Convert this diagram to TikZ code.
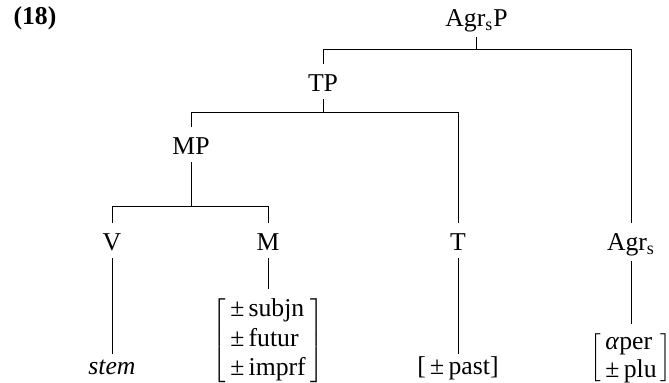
\documentclass[tikz,border=0pt]{standalone}
\usepackage{fontspec}
\setmainfont{Liberation Serif}

\begin{document}
\begin{tikzpicture}[x=0.5pt, y=-0.5pt, line width=0.5pt,
    font=\fontsize{12.85}{14.75}\selectfont,
    cat/.style={inner sep=0pt, anchor=base, text height=13.5pt, text depth=3.5pt},
    agr/.style={cat, text depth=5pt},
    leaf/.style={inner sep=0pt, anchor=base, text height=10pt, text depth=2pt},
    feat/.style={inner sep=0pt, outer ysep=3.5pt, anchor=north}]
  \useasboundingbox (0,0) rectangle (669,383);
  \draw
    (13,25) node[anchor=base west, inner sep=0pt] (ex){\textbf{(18)}}
    (476.5,27) node[agr] (AgrsP){Agr\textsubscript{s}P}
    (323,92) node[cat] (TP){TP}
    (191,155) node[cat] (MP){MP}
    (112,251) node[cat] (V){V}
    (268,251) node[cat] (M){M}
    (458,251) node[cat] (T){T}
    (631,251) node[agr] (Agrs){Agr\textsubscript{s}}
    (112,375) node[leaf] (stem){\textit{stem}}
    (268,289) node[feat] (Mfeat){$\left[\begin{tabular}{@{\,}l@{\,}}±\,subjn\\±\,futur\\±\,imprf\end{tabular}\right]$}
    (458,375) node[leaf] (Tfeat){[\,±\,past]}
    (631,324) node[feat] (Afeat){\delimiterfactor=800 \renewcommand{\arraystretch}{0.92}%
      $\left[\begin{tabular}{@{\,}l@{\,}}\textit{α}per\\±\,plu\end{tabular}\right]$};
  \coordinate (b1) at (0,50);
  \coordinate (b2) at (0,113);
  \coordinate (b3) at (0,207);
  \begin{scope}[-]
    \draw (AgrsP.south) -- (AgrsP.south |- b1) -| (TP.north);
    \draw (AgrsP.south |- b1) -| (Agrs.north);
    \draw (TP.south) -- (TP.south |- b2) -| (MP.north);
    \draw (TP.south |- b2) -| (T.north);
    \draw (MP.south) -- (MP.south |- b3) -| (V.north);
    \draw (MP.south |- b3) -| (M.north);
    \draw (V.south) to (stem.north);
    \draw (M.south) to (Mfeat.north);
    \draw (T.south) to (Tfeat.north);
    \draw (Agrs.south) to (Afeat.north);
  \end{scope}
\end{tikzpicture}
\end{document}
